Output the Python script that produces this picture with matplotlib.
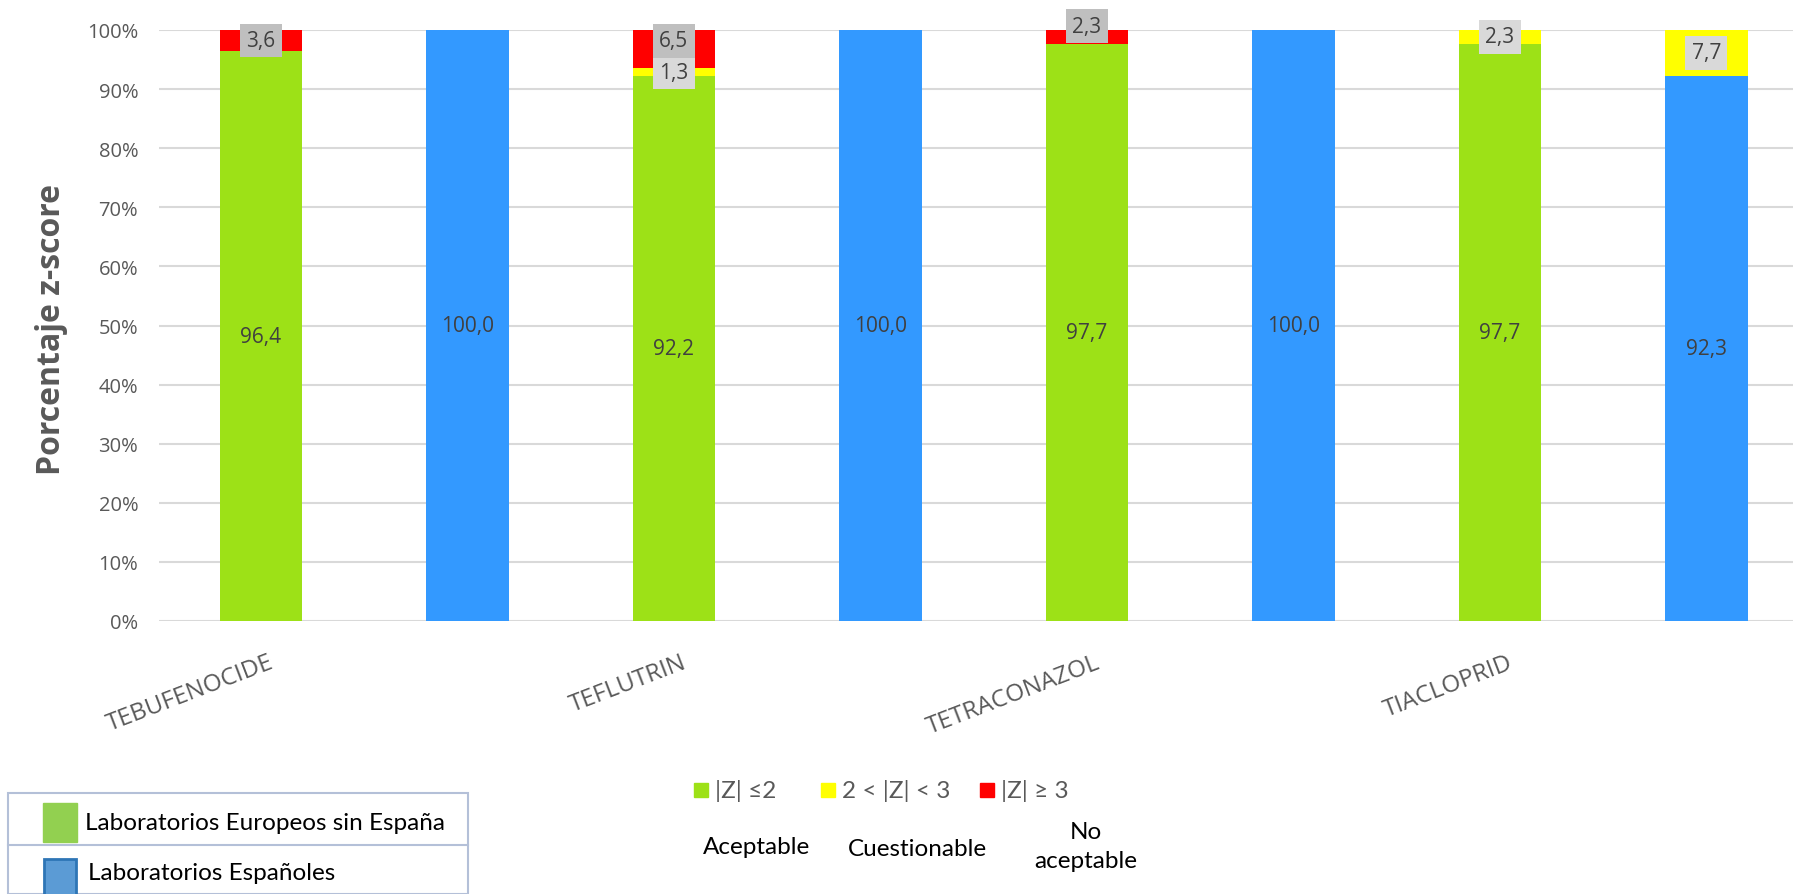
import numpy as np
import matplotlib
matplotlib.use("Agg")
import matplotlib.pyplot as plt
from matplotlib.patches import Rectangle
from matplotlib.transforms import ScaledTranslation

# z-score distribution per compound and laboratory group (percent)
compounds = ["TEBUFENOCIDE", "TEFLUTRIN", "TETRACONAZOL", "TIACLOPRID"]
groups = ["EU", "ES", "EU", "ES", "EU", "ES", "EU", "ES"]
aceptable = [96.4, 100.0, 92.2, 100.0, 97.7, 100.0, 97.7, 92.3]
cuestionable = [0.0, 0.0, 1.3, 0.0, 0.0, 0.0, 2.3, 7.7]
no_aceptable = [3.6, 0.0, 6.5, 0.0, 2.3, 0.0, 0.0, 0.0]

green = "#9DE117"
blue = "#3399FF"
yellow = "#FFFF00"
red = "#FF0000"
txt_gray = "#595959"
lbl_gray = "#404040"

plt.rcParams['font.family'] = ['Open Sans', 'DejaVu Sans']

fig = plt.figure(figsize=(17.93, 8.95), dpi=100)
ax = fig.add_axes([159/1793, 273/895, 1 - 159/1793, 591/895])

x = np.arange(len(groups))
w = 0.40
base_col = [green if g == "EU" else blue for g in groups]
acc = np.array(aceptable)
cue = np.array(cuestionable)
noa = np.array(no_aceptable)

ax.bar(x, acc, w, color=base_col, zorder=2)
ax.bar(x, cue, w, bottom=acc, color=yellow, zorder=2)
ax.bar(x, noa, w, bottom=acc + cue, color=red, zorder=2)

ax.set_ylim(0, 100)
ax.set_xlim(-0.494, 7.42)
ax.set_yticks(np.arange(0, 101, 10))
ax.set_yticklabels([f"{v}%" for v in range(0, 101, 10)], fontsize=14.5, color=txt_gray)
ax.yaxis.grid(True, color="#D9D9D9", lw=1.5, zorder=0)
ax.tick_params(axis='y', length=0, pad=15)
for s in ax.spines.values():
    s.set_visible(False)

ax.set_xticks(x[::2])
ax.set_xticklabels(compounds, fontsize=17.5, color=txt_gray, rotation=21,
                   ha='right', va='baseline', rotation_mode='anchor')
ax.tick_params(axis='x', length=0, pad=33)
for lbl in ax.get_xticklabels():
    lbl.set_transform(lbl.get_transform() + ScaledTranslation(0.14, 0, fig.dpi_scale_trans))

fig.text(52/1793, 1 - 330/895, "Porcentaje z-score", rotation=90, ha='center', va='center',
         fontsize=23, fontweight='bold', color=txt_gray)

# main segment labels
for xi, v in zip(x, acc):
    ax.text(xi, v / 2, f"{v:.1f}".replace(".", ","), ha='center', va='center',
            fontsize=15, color=lbl_gray, zorder=4)

# small segment labels in boxes (a couple are nudged to avoid overlap)
shift_red = [0, 0, 1.4, 0, 1.8, 0, 0, 0]
for xi, a, c, n, dy in zip(x, acc, cue, noa, shift_red):
    if c > 0:
        ax.text(xi, a + c / 2, f"{c:.1f}".replace(".", ","), ha='center', va='center',
                fontsize=15, color=lbl_gray, zorder=5, clip_on=False,
                bbox=dict(boxstyle='square,pad=0.3', fc="#D9D9D9", ec='none'))
    if n > 0:
        ax.text(xi, a + c + n / 2 + dy, f"{n:.1f}".replace(".", ","), ha='center', va='center',
                fontsize=15, color=lbl_gray, zorder=5, clip_on=False,
                bbox=dict(boxstyle='square,pad=0.3', fc="#BFBFBF", ec='none'))

# z-score category key
def fx(px):
    return px / 1793

def fy(py):
    return 1 - py / 895

lato = ['Lato', 'DejaVu Sans']
key = [(694, green, "|Z| \u22642"), (821, yellow, "2 < |Z| < 3"), (980, red, "|Z| \u2265 3")]
for kx, col, lab in key:
    fig.patches.append(Rectangle((fx(kx), fy(798)), fx(14), 14/895, color=col,
                                 transform=fig.transFigure, figure=fig))
    fig.text(fx(kx + 21), fy(791), lab, ha='left', va='center', fontsize=17.5,
             color=txt_gray, family=lato)

fig.text(fx(757), fy(848), "Aceptable", ha='center', va='center', fontsize=17.5, family=lato)
fig.text(fx(917), fy(849), "Cuestionable", ha='center', va='center', fontsize=17.5, family=lato)
fig.text(fx(1086), fy(847), "No\naceptable", ha='center', va='center', fontsize=17.5,
         linespacing=1.45, family=lato)

# laboratory group key
fig.patches.append(Rectangle((fx(8), 0), fx(460), fy(794), fill=False, ec="#B4C0D8", lw=1.5,
                             transform=fig.transFigure, figure=fig))
fig.add_artist(plt.Line2D([fx(8), fx(468)], [fy(846), fy(846)], color="#B4C0D8", lw=1.5,
                          transform=fig.transFigure))
fig.patches.append(Rectangle((fx(43), fy(843)), fx(34), 39/895, color="#92D050",
                             transform=fig.transFigure, figure=fig))
fig.patches.append(Rectangle((fx(44), fy(897)), fx(32), 37/895, fc="#5B9BD5", ec="#2E75B6", lw=2,
                             transform=fig.transFigure, figure=fig))
fig.text(fx(85), fy(824), "Laboratorios Europeos sin Espa\u00f1a", ha='left', va='center',
         fontsize=17.5, color="black", family=lato)
fig.text(fx(88), fy(874), "Laboratorios Espa\u00f1oles", ha='left', va='center',
         fontsize=17.5, color="black", family=lato)

fig.savefig("out.png", dpi=100)
